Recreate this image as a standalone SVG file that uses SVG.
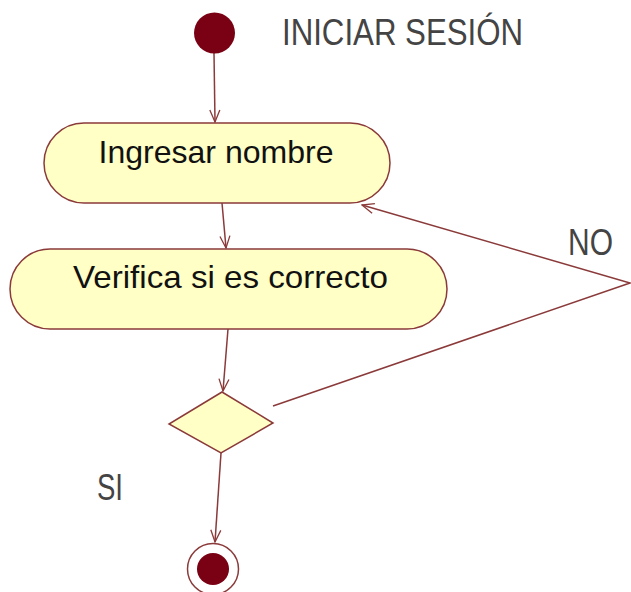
<svg xmlns="http://www.w3.org/2000/svg" width="631" height="592" viewBox="0 0 631 592">
<defs>
<marker id="arr" viewBox="0 0 14 12" refX="13" refY="6" markerWidth="14" markerHeight="12" markerUnits="userSpaceOnUse" orient="auto">
<path d="M1,1 L13,6 L1,11" fill="none" stroke="#8b3a3a" stroke-width="1.3"/>
</marker>
</defs>
<style>
.node{fill:#ffffc6;stroke:#8b3a3a;stroke-width:1.5}
.conn{fill:none;stroke:#8b3a3a;stroke-width:1.5}
.txt{font-family:"Liberation Sans",Arial,sans-serif;font-size:32px;fill:#111}
.lbl{font-family:"Liberation Sans",Arial,sans-serif;font-size:36px;fill:#444}
</style>
<rect width="631" height="592" fill="#ffffff"/>
<g id="connectors">
<path class="conn" d="M214,53 L215,122" marker-end="url(#arr)"/>
<path class="conn" d="M222,203 L226,248" marker-end="url(#arr)"/>
<path class="conn" d="M228,329 L223,391" marker-end="url(#arr)"/>
<path class="conn" d="M273,406 L630,283 L362,205" marker-end="url(#arr)"/>
<path class="conn" d="M221,453 L215,542" marker-end="url(#arr)"/>
</g>
<g id="start">
<circle cx="214.5" cy="33" r="20.5" fill="#7a0014"/>
</g>
<g id="title">
<text class="lbl" x="282" y="45" textLength="241" lengthAdjust="spacingAndGlyphs">INICIAR SESIÓN</text>
</g>
<g id="ingresar">
<rect class="node" x="44" y="123" width="346" height="80" rx="40" ry="40"/>
<text class="txt" x="216" y="163" text-anchor="middle" textLength="235" lengthAdjust="spacingAndGlyphs">Ingresar nombre</text>
</g>
<g id="verifica">
<rect class="node" x="10" y="249" width="437" height="80" rx="40" ry="40"/>
<text class="txt" x="230.5" y="288" text-anchor="middle" textLength="315" lengthAdjust="spacingAndGlyphs">Verifica si es correcto</text>
</g>
<g id="decision">
<polygon class="node" points="222,392 273,423 221,453 169,424"/>
</g>
<g id="label-no">
<text class="lbl" x="568" y="255" textLength="45" lengthAdjust="spacingAndGlyphs">NO</text>
</g>
<g id="label-si">
<text class="lbl" x="97" y="500" textLength="26" lengthAdjust="spacingAndGlyphs">SI</text>
</g>
<g id="end">
<circle cx="213" cy="569" r="25.5" fill="#ffffff" stroke="#8b3a3a" stroke-width="1.5"/>
<circle cx="213" cy="569" r="16" fill="#7a0014"/>
</g>
</svg>
